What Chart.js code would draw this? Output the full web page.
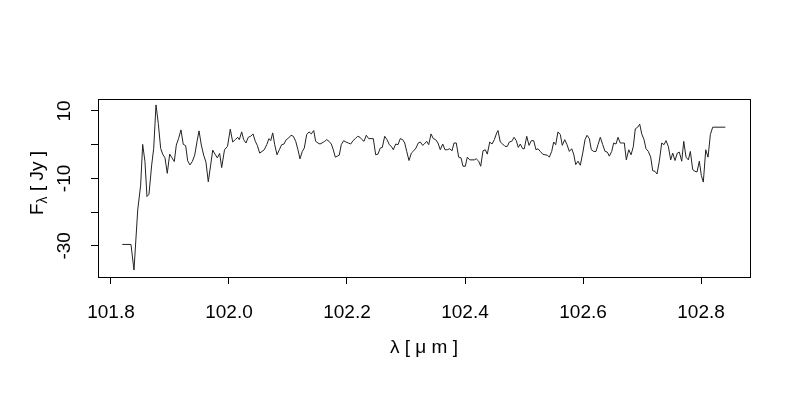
<!DOCTYPE html>
<html>
<head>
<meta charset="utf-8">
<script src="https://cdn.jsdelivr.net/npm/chart.js@4"></script>
<style>
  body { margin: 0; background: #fff; }
</style>
</head>
<body>
<canvas id="spectrum" width="800" height="400"></canvas>
<script>
// wavelength in micron, flux in Jy
const lam = [
    101.8192, 101.8339, 101.8390, 101.8453, 101.8503, 101.8537, 101.8576, 101.8610, 101.8644, 101.8690,
    101.8724, 101.8763, 101.8802, 101.8842, 101.8876, 101.8915, 101.8954, 101.8995, 101.9034, 101.9073,
    101.9107, 101.9147, 101.9186, 101.9225, 101.9266, 101.9300, 101.9339, 101.9378, 101.9419, 101.9458,
    101.9492, 101.9531, 101.9571, 101.9610, 101.9649, 101.9690, 101.9724, 101.9763, 101.9802, 101.9842,
    101.9876, 101.9924, 101.9975, 102.0022, 102.0063, 102.0107, 102.0147, 102.0175, 102.0215, 102.0249,
    102.0288, 102.0327, 102.0368, 102.0407, 102.0446, 102.0480, 102.0520, 102.0559, 102.0598, 102.0639,
    102.0678, 102.0707, 102.0741, 102.0775, 102.0814, 102.0853, 102.0893, 102.0932, 102.0971, 102.1012,
    102.1051, 102.1090, 102.1131, 102.1169, 102.1203, 102.1242, 102.1276, 102.1317, 102.1356, 102.1395,
    102.1436, 102.1469, 102.1508, 102.1542, 102.1576, 102.1622, 102.1656, 102.1695, 102.1734, 102.1768,
    102.1802, 102.1836, 102.1869, 102.1903, 102.1944, 102.1983, 102.2022, 102.2063, 102.2102, 102.2141,
    102.2181, 102.2220, 102.2254, 102.2288, 102.2327, 102.2368, 102.2407, 102.2446, 102.2486, 102.2525,
    102.2564, 102.2598, 102.2639, 102.2678, 102.2717, 102.2751, 102.2785, 102.2825, 102.2864, 102.2903,
    102.2944, 102.2978, 102.3012, 102.3051, 102.3090, 102.3131, 102.3169, 102.3208, 102.3242, 102.3283,
    102.3310, 102.3351, 102.3385, 102.3424, 102.3463, 102.3503, 102.3542, 102.3581, 102.3622, 102.3661,
    102.3700, 102.3741, 102.3780, 102.3814, 102.3852, 102.3893, 102.3932, 102.3966, 102.4005, 102.4039,
    102.4080, 102.4119, 102.4158, 102.4191, 102.4232, 102.4266, 102.4305, 102.4344, 102.4378, 102.4419,
    102.4458, 102.4497, 102.4537, 102.4559, 102.4598, 102.4639, 102.4678, 102.4717, 102.4751, 102.4792,
    102.4831, 102.4869, 102.4903, 102.4937, 102.4978, 102.5005, 102.5046, 102.5085, 102.5124, 102.5164,
    102.5203, 102.5237, 102.5276, 102.5317, 102.5356, 102.5395, 102.5429, 102.5469, 102.5503, 102.5537,
    102.5576, 102.5615, 102.5649, 102.5690, 102.5729, 102.5768, 102.5808, 102.5842, 102.5876, 102.5915,
    102.5954, 102.5995, 102.6034, 102.6068, 102.6107, 102.6141, 102.6181, 102.6220, 102.6254, 102.6293,
    102.6334, 102.6373, 102.6412, 102.6446, 102.6486, 102.6520, 102.6559, 102.6593, 102.6632, 102.6673,
    102.6700, 102.6734, 102.6775, 102.6814, 102.6853, 102.6886, 102.6927, 102.6961, 102.6995, 102.7034,
    102.7068, 102.7107, 102.7147, 102.7181, 102.7220, 102.7254, 102.7293, 102.7334, 102.7373, 102.7407,
    102.7446, 102.7486, 102.7520, 102.7559, 102.7598, 102.7632, 102.7673, 102.7707, 102.7746, 102.7785,
    102.7819, 102.7859, 102.7898, 102.7932, 102.7971, 102.8005, 102.8039, 102.8080, 102.8119, 102.8158,
    102.8198, 102.8412
]
const flux = [
    -29.6, -29.6, -37.2, -19.4, -12.0, 0.1, -5.0, -15.4, -14.7, -6.0,
    -1.1, 11.8, 6.3, -1.1, -2.8, -3.9, -8.5, -2.8, -3.9, -5.0,
    -0.1, 1.9, 4.4, 0.1, -0.3, -4.8, -6.0, -5.0, -3.1, 0.9,
    4.1, -0.1, -3.1, -5.2, -11.0, -6.0, -1.6, -2.8, -3.9, -2.6,
    -6.8, -1.5, -0.5, 4.6, 0.8, 1.5, 2.2, 1.5, 3.8, 1.5,
    0.5, 2.2, 2.5, 3.2, 1.0, -0.2, -2.5, -2.0, -1.5, 0.0,
    1.8, 1.2, 3.5, 0.0, -3.0, -1.5, 0.0, 0.2, 1.5, 2.0,
    2.8, 2.5, 1.0, -1.5, -4.2, -2.0, -1.0, 3.0, 3.8, 3.2,
    4.2, 1.0, 0.5, 0.2, 0.5, 1.0, 1.5, 1.0, 0.2, -1.5,
    -3.7, -3.4, -3.1, 0.0, 1.2, 0.8, 0.5, 0.2, 1.2, 1.8,
    2.5, 2.2, 1.5, 1.0, 2.8, 1.8, 1.8, 1.8, -3.0, -2.8,
    -1.0, -0.8, 2.5, 1.5, 0.0, -0.5, -1.5, 0.2, 0.0, 1.8,
    1.5, 0.5, -2.0, -4.7, -2.5, -1.8, -1.0, 0.5, 0.8, -0.2,
    0.2, 1.0, 0.0, 3.2, 1.8, 1.5, 0.5, -1.5, 0.2, -1.5,
    -1.5, -1.2, -1.8, 0.5, 0.5, -3.7, -3.9, -6.4, -6.4, -3.7,
    -4.5, -4.5, -4.5, -4.2, -4.9, -6.4, -1.8, -1.5, -2.8, 0.8,
    0.2, 1.5, 3.5, 4.2, 0.8, 0.2, -0.5, -0.5, 0.8, 1.0,
    2.2, 1.2, -0.8, 0.2, -1.2, -1.2, 2.5, -0.2, 1.2, 1.2,
    -1.5, -1.2, -2.0, -2.8, -3.0, -3.1, -3.7, -2.0, 0.8, 0.0,
    3.8, 3.0, -0.2, 1.5, 0.0, -2.0, -1.2, -2.8, -5.9, -4.9,
    -6.1, -2.5, 1.5, 2.8, 1.8, -1.5, -2.0, -2.0, 0.0, 2.2,
    0.0, -2.0, -2.2, -3.4, -2.0, 0.5, 0.2, 2.2, 0.5, 0.5,
    0.5, -4.5, -1.5, -3.0, -0.5, 4.7, 5.2, 6.1, 3.2, 1.5,
    -1.2, -2.0, -3.7, -7.7, -7.9, -8.7, -4.9, 0.5, 0.0, 1.2,
    -0.5, -4.5, -2.5, -4.7, -2.5, -2.2, -4.9, 1.0, -3.7, -4.5,
    -2.0, -7.4, -7.9, -8.1, -4.9, -9.1, -11.1, -1.5, -3.7, 3.0,
    5.2, 5.2
]

const xTicks = [101.8, 102.0, 102.2, 102.4, 102.6, 102.8]
const yTicks = [10, 0, -10, -20, -30]
const yTickLabels = [10, -10, -30]   // R drops the labels that would overlap

const FONT = "'Liberation Sans', Arial, sans-serif"

Chart.defaults.font.family = FONT
Chart.defaults.font.size = 19
Chart.defaults.color = "#000"

// R-style box round the plot region plus the two axis titles
const frame = {
    id: "frame",
    afterDraw(chart) {
        const { ctx, chartArea: a } = chart
        ctx.save()
        ctx.strokeStyle = "#000"
        ctx.lineWidth = 1
        ctx.strokeRect(a.left + 0.5, a.top + 0.5, a.right - a.left, a.bottom - a.top)

        ctx.fillStyle = "#000"
        ctx.font = "19px " + FONT
        ctx.textAlign = "center"
        ctx.textBaseline = "alphabetic"
        ctx.fillText("λ [ μ m ]", (a.left + a.right) / 2, 353)

        // F with subscript lambda, rotated
        ctx.translate(43, 183)
        ctx.rotate(-Math.PI / 2)
        ctx.textAlign = "left"
        const big = "19px " + FONT, small = "14px " + FONT
        ctx.font = big
        const wF = ctx.measureText("F").width
        const wRest = ctx.measureText(" [ Jy ]").width
        ctx.font = small
        const wL = ctx.measureText("λ").width
        let x = -(wF + wL + wRest) / 2
        ctx.font = big
        ctx.fillText("F", x, 0)
        x += wF
        ctx.font = small
        ctx.fillText("λ", x, 4)
        x += wL
        ctx.font = big
        ctx.fillText(" [ Jy ]", x, 0)
        ctx.restore()
    }
}

new Chart(document.getElementById("spectrum"), {
    type: "line",
    data: {
        datasets: [{
            data: lam.map((l, i) => ({ x: l, y: flux[i] })),
            borderColor: "#222",
            borderWidth: 1,
            pointRadius: 0,
            tension: 0,
            fill: false
        }]
    },
    options: {
        responsive: false,
        animation: false,
        layout: { padding: { top: 99, right: 50, left: 0, bottom: 0 } },
        plugins: {
            legend: { display: false },
            tooltip: { enabled: false }
        },
        scales: {
            x: {
                type: "linear",
                min: 101.778,
                max: 102.883,
                afterBuildTicks: s => { s.ticks = xTicks.map(v => ({ value: v })) },
                afterFit: s => { s.height = 123 },
                border: { display: false },
                grid: { drawOnChartArea: false, drawTicks: true, tickLength: 7, color: "#000" },
                ticks: { padding: 17, maxRotation: 0, callback: v => v.toFixed(1) }
            },
            y: {
                type: "linear",
                min: -39.26,
                max: 13.56,
                afterBuildTicks: s => { s.ticks = yTicks.map(v => ({ value: v })) },
                afterFit: s => { s.width = 98 },
                border: { display: false },
                grid: { drawOnChartArea: false, drawTicks: true, tickLength: 7, color: "#000" },
                ticks: {
                    padding: 13,
                    minRotation: 90,
                    maxRotation: 90,
                    crossAlign: "center",
                    callback: v => yTickLabels.includes(v) ? String(v) : ""
                }
            }
        }
    },
    plugins: [frame]
})
</script>
</body>
</html>
